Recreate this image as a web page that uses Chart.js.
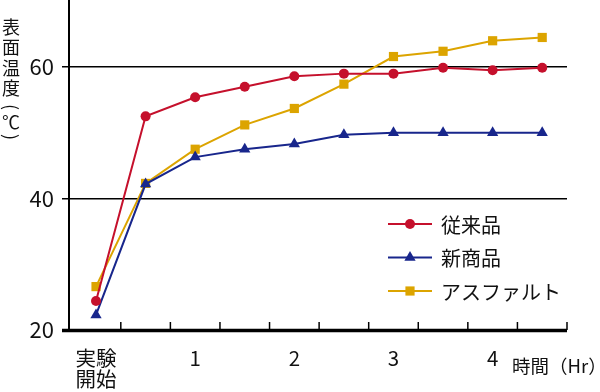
<!DOCTYPE html>
<html>
<head>
<meta charset="utf-8">
<script src="https://cdn.jsdelivr.net/npm/chart.js@4"></script>
<style>
  body { margin: 0; background: #fff; }
  #wrap { width: 600px; height: 392px; }
</style>
</head>
<body>
<div id="wrap"><canvas id="tempChart" width="600" height="392"></canvas></div>
<script>
// elapsed time (hours) for each measurement
const times = [0, 0.5, 1, 1.5, 2, 2.5, 3, 3.5, 4, 4.5];
const conventional = [24.4, 52.5, 55.4, 57.0, 58.6, 59.0, 59.0, 59.9, 59.5, 59.9];
const newProduct = [22.3, 42.2, 46.3, 47.5, 48.3, 49.7, 50.0, 50.0, 50.0, 50.0];
const asphalt = [26.6, 42.3, 47.5, 51.2, 53.7, 57.4, 61.6, 62.4, 64.0, 64.5];
const seriesNames = ['従来品', '新商品', 'アスファルト'];
const xTicks = [0, 1, 2, 3, 4];
const xTickLabels = [['実験', '開始'], '1', '2', '3', '4'];
const yTicks = [20, 40, 60];
const yTitle = ['表', '面', '温', '度'];
const xTitle = '時間（Hr）';

const JP = '"Noto Sans CJK JP", "Noto Sans", sans-serif';
const colors = ['#c5102c', '#18268c', '#dca400'];

function toPoints(values) {
    return values.map((v, i) => ({ x: times[i], y: v }));
}

function drawMarker(ctx, style, x, y, r, color) {
    ctx.save();
    ctx.fillStyle = color;
    ctx.beginPath();
    if (style === 'circle') {
        ctx.arc(x, y, r, 0, Math.PI * 2);
    } else if (style === 'triangle') {
        ctx.moveTo(x, y - r);
        ctx.lineTo(x + r * 0.866, y + r * 0.5);
        ctx.lineTo(x - r * 0.866, y + r * 0.5);
        ctx.closePath();
    } else {
        const s = r * Math.SQRT1_2;
        ctx.rect(x - s, y - s, s * 2, s * 2);
    }
    ctx.fill();
    ctx.restore();
}

const decor = {
    id: 'decor',
    afterDraw(chart) {
        const ctx = chart.ctx;
        const sx = chart.scales.x;
        const area = chart.chartArea;
        const y0 = chart.scales.y.getPixelForValue(20);
        ctx.save();
        ctx.strokeStyle = '#000';
        // bottom axis line
        ctx.lineWidth = 3.5;
        ctx.beginPath();
        ctx.moveTo(62, y0 + 0.5);
        ctx.lineTo(area.right, y0 + 0.5);
        ctx.stroke();
        // inward tick marks halfway between measurements
        ctx.lineWidth = 1.5;
        for (let i = 0; i < times.length; i++) {
            const px = sx.getPixelForValue(times[i] + 0.25);
            ctx.beginPath();
            ctx.moveTo(px, y0);
            ctx.lineTo(px, y0 - 8);
            ctx.stroke();
        }
        // axis titles
        ctx.fillStyle = '#111';
        ctx.font = '18.5px ' + JP;
        ctx.textAlign = 'left';
        ctx.textBaseline = 'middle';
        ctx.fillText(xTitle, 512, 366);
        ctx.font = '18px ' + JP;
        ctx.textAlign = 'center';
        yTitle.forEach((ch, i) => ctx.fillText(ch, 11, 27 + i * 20.5));
        ctx.fillText('℃', 11, 122);
        ['(', ')'].forEach((p, i) => {
            ctx.save();
            ctx.translate(11, i === 0 ? 107 : 137);
            ctx.rotate(Math.PI / 2);
            ctx.fillText(p, 0, 0);
            ctx.restore();
        });
        // legend
        ctx.font = '20px ' + JP;
        ctx.textAlign = 'left';
        chart.data.datasets.forEach((ds, i) => {
            const ly = 224 + i * 33.5;
            ctx.strokeStyle = ds.borderColor;
            ctx.lineWidth = 2;
            ctx.beginPath();
            ctx.moveTo(388, ly);
            ctx.lineTo(432, ly);
            ctx.stroke();
            drawMarker(ctx, ds.pointStyle, 410, ly, ds.pointRadius, ds.backgroundColor);
            ctx.fillStyle = '#111';
            ctx.fillText(ds.label, 441, ly + 1);
        });
        ctx.restore();
    }
};

const ctx = document.getElementById('tempChart').getContext('2d');
const tempChart = new Chart(ctx, {
    type: 'line',
    data: {
        datasets: [
            { label: seriesNames[0], data: toPoints(conventional), pointStyle: 'circle', pointRadius: 5 },
            { label: seriesNames[1], data: toPoints(newProduct), pointStyle: 'triangle', pointRadius: 6.5 },
            { label: seriesNames[2], data: toPoints(asphalt), pointStyle: 'rect', pointRadius: 6.5 }
        ].map((ds, i) => Object.assign(ds, {
            borderColor: colors[i],
            backgroundColor: colors[i],
            pointBackgroundColor: colors[i],
            pointBorderWidth: 0,
            borderWidth: 2,
            tension: 0
        }))
    },
    plugins: [decor],
    options: {
        responsive: false,
        devicePixelRatio: 1,
        animation: false,
        layout: { autoPadding: false, padding: { top: 0, right: 33, left: 0, bottom: 0 } },
        plugins: {
            legend: { display: false },
            tooltip: { enabled: false }
        },
        scales: {
            x: {
                type: 'linear',
                min: -0.2725,
                max: 4.75,
                afterBuildTicks: scale => {
                    scale.ticks = xTicks.map(v => ({ value: v }));
                },
                afterFit: scale => {
                    scale.height = 62;
                    scale.paddingLeft = 0;
                    scale.paddingRight = 0;
                },
                grid: { display: false, drawTicks: false },
                border: { display: false },
                ticks: {
                    autoSkip: false,
                    maxRotation: 0,
                    padding: 17,
                    color: '#111',
                    font: { family: JP, size: 20.5, lineHeight: 1.05 },
                    callback: (v, i) => xTickLabels[i]
                }
            },
            y: {
                min: 20,
                max: 70.2,
                afterBuildTicks: scale => {
                    scale.ticks = yTicks.map(v => ({ value: v }));
                },
                afterFit: scale => {
                    scale.width = 69;
                    scale.paddingTop = 0;
                    scale.paddingBottom = 0;
                },
                grid: { color: '#000', lineWidth: 1.5, tickLength: 7 },
                border: { color: '#000', width: 2 },
                ticks: {
                    padding: 8,
                    color: '#111',
                    font: { family: JP, size: 22 }
                }
            }
        }
    }
});
</script>
</body>
</html>
